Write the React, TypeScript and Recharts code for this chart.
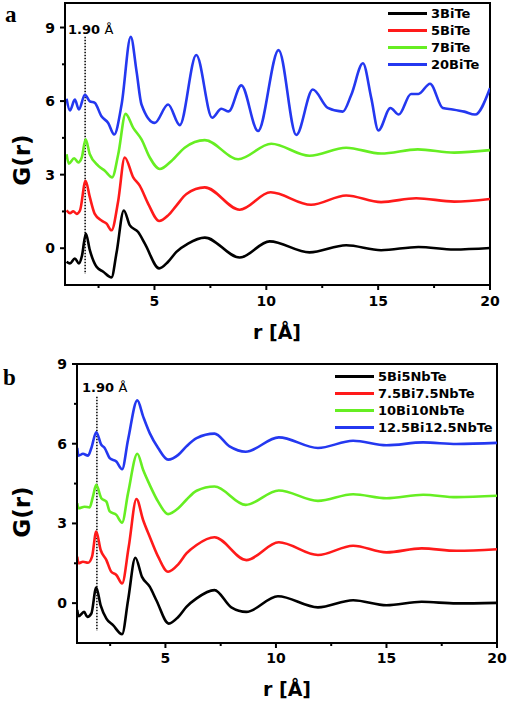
import React from 'react';
import { LineChart, Line, XAxis, YAxis, ReferenceLine, ReferenceArea } from 'recharts';

// r axis ticks (major every 5, minor every 2.5) and G(r) ticks
const R_TICKS = [2.5, 5, 7.5, 10, 12.5, 15, 17.5, 20];
const G_TICKS = [0, 1.5, 3, 4.5, 6, 7.5, 9];

// panel a: [r, G(r)]
const biTe3 = [[1.07, -0.55], [1.22, -0.62], [1.44, -0.42], [1.62, -0.62], [1.76, -0.3], [1.93, 0.6], [2.11, -0.08], [2.41, -0.76], [2.71, -0.96], [3.08, -1.19], [3.3, -0.21], [3.63, 1.54], [3.9, 0.93], [4.27, 0.66], [4.57, 0.19], [5.21, -0.82], [5.61, -0.55], [5.98, -0.15], [6.5, 0.19], [7.25, 0.43], [8.81, -0.38], [10.15, 0.28], [11.93, -0.17], [13.57, 0.12], [15.13, -0.08], [16.8, 0.05], [18.4, -0.05], [20, 0.01]];
const biTe5 = [[1.07, 1.54], [1.22, 1.43], [1.37, 1.51], [1.52, 1.4], [1.67, 1.54], [1.92, 2.75], [2.11, 2.08], [2.33, 1.4], [2.63, 1.13], [2.86, 1.0], [3.08, 0.73], [3.38, 1.94], [3.67, 3.7], [4.05, 2.89], [4.34, 2.55], [4.72, 1.81], [5.21, 1.11], [5.61, 1.34], [5.98, 1.74], [6.43, 2.21], [7.25, 2.48], [8.81, 1.57], [10.19, 2.28], [12.0, 1.77], [13.57, 2.15], [15.13, 1.88], [16.7, 2.04], [18.4, 1.9], [20, 2.01]];
const biTe7 = [[1.07, 3.83], [1.17, 3.45], [1.41, 3.67], [1.59, 3.5], [1.75, 3.7], [1.92, 4.44], [2.11, 3.83], [2.49, 3.36], [2.78, 3.16], [3.11, 2.89], [3.38, 3.83], [3.71, 5.48], [4.05, 4.91], [4.42, 4.44], [4.79, 3.7], [5.24, 3.23], [5.76, 3.56], [6.35, 4.1], [7.25, 4.41], [8.74, 3.63], [10.22, 4.26], [11.93, 3.77], [13.57, 4.1], [15.13, 3.86], [16.77, 4.03], [18.4, 3.9], [20, 4.0]];
const biTe20 = [[1.07, 6.1], [1.22, 5.62], [1.44, 6.06], [1.62, 5.66], [1.89, 6.26], [2.11, 5.99], [2.33, 5.93], [2.63, 5.38], [2.93, 5.11], [3.2, 4.64], [3.53, 5.86], [3.94, 8.62], [4.2, 7.2], [4.42, 5.86], [5.01, 5.11], [5.61, 5.86], [6.13, 5.02], [6.87, 7.88], [7.58, 5.32], [7.99, 5.69], [8.32, 5.58], [8.88, 6.64], [9.63, 4.78], [10.55, 8.08], [11.34, 4.62], [12.08, 6.47], [12.75, 5.72], [13.42, 5.57], [13.8, 6.26], [14.32, 7.54], [14.69, 6.13], [15.01, 4.8], [15.55, 5.72], [15.92, 5.45], [16.47, 6.29], [16.8, 6.29], [17.32, 6.71], [17.89, 5.72], [18.33, 5.66], [18.85, 5.57], [19.33, 5.45], [20, 6.53]];

// panel b
const nb5 = [[1.01, -0.26], [1.07, -0.49], [1.32, -0.33], [1.47, -0.52], [1.65, -0.39], [1.87, 0.59], [2.07, -0.08], [2.33, -0.58], [2.63, -0.83], [3.04, -1.17], [3.31, 0.11], [3.64, 1.71], [3.94, 0.99], [4.29, 0.62], [4.59, 0.11], [5.15, -0.77], [5.58, -0.52], [5.95, -0.14], [6.41, 0.18], [7.22, 0.49], [7.98, -0.16], [8.66, -0.33], [10.09, 0.26], [11.9, -0.16], [13.49, 0.11], [15.0, -0.08], [16.59, 0.05], [18.17, -0.01], [20, 0.01]];
const nb75 = [[1.01, 1.75], [1.07, 1.5], [1.27, 1.56], [1.5, 1.52], [1.68, 1.75], [1.87, 2.69], [2.07, 2.0], [2.33, 1.62], [2.55, 1.18], [2.78, 1.06], [3.04, 0.74], [3.34, 2.12], [3.69, 3.92], [3.99, 3.13], [4.29, 2.5], [4.67, 1.75], [5.12, 1.18], [5.58, 1.46], [5.95, 1.87], [6.41, 2.19], [7.22, 2.48], [8.66, 1.62], [10.13, 2.29], [11.9, 1.81], [13.49, 2.16], [15.0, 1.91], [16.59, 2.06], [18.17, 1.97], [20, 2.03]];
const nb10 = [[1.01, 3.76], [1.07, 3.57], [1.34, 3.63], [1.57, 3.6], [1.72, 4.01], [1.87, 4.45], [2.1, 3.95], [2.33, 3.82], [2.48, 3.45], [2.78, 3.32], [3.04, 3.03], [3.31, 4.14], [3.73, 5.62], [3.99, 5.02], [4.29, 4.45], [4.67, 3.82], [5.12, 3.35], [5.58, 3.57], [5.95, 3.89], [6.41, 4.23], [7.22, 4.39], [8.63, 3.7], [10.13, 4.24], [11.9, 3.85], [13.49, 4.1], [15.0, 3.95], [16.66, 4.08], [18.17, 3.99], [20, 4.04]];
const nb125 = [[1.01, 5.84], [1.07, 5.55], [1.27, 5.62], [1.5, 5.55], [1.65, 5.84], [1.87, 6.43], [2.1, 5.96], [2.25, 5.84], [2.48, 5.46], [2.78, 5.33], [3.04, 5.04], [3.31, 6.15], [3.73, 7.63], [3.99, 7.03], [4.29, 6.4], [4.67, 5.84], [5.12, 5.4], [5.58, 5.58], [5.95, 5.9], [6.41, 6.21], [7.22, 6.38], [7.9, 5.9], [8.63, 5.7], [10.13, 6.24], [11.9, 5.84], [13.49, 6.11], [15.0, 5.94], [16.66, 6.05], [18.17, 5.99], [20, 6.03]];

const COLORS = ['#000000', '#ff1a1a', '#66ee22', '#2438f0'];
const namesA = ['3BiTe', '5BiTe', '7BiTe', '20BiTe'];
const namesB = ['5Bi5NbTe', '7.5Bi7.5NbTe', '10Bi10NbTe', '12.5Bi12.5NbTe'];

const FONT = '"DejaVu Sans", sans-serif';

const toPoints = (pairs: number[][]) => pairs.map(([r, g]) => ({ r, g }));

function XTick(props: any) {
  const { x, y, payload, labelDy } = props;
  const major = payload.value % 5 === 0;
  return (
    <g>
      <line x1={x} x2={x} y1={y} y2={y + (major ? 5 : 3)} stroke="#000" strokeWidth={2} />
      {major && (
        <text x={x} y={y + labelDy} textAnchor="middle" fontFamily={FONT} fontWeight="bold" fontSize={14} fill="#000">
          {payload.value}
        </text>
      )}
    </g>
  );
}

function YTick(props: any) {
  const { x, y, payload } = props;
  const major = payload.value % 3 === 0;
  return (
    <g>
      <line x1={x} x2={x - (major ? 5 : 3)} y1={y} y2={y} stroke="#000" strokeWidth={2} />
      {major && (
        <text x={x - 10} y={y + 5} textAnchor="end" fontFamily={FONT} fontWeight="bold" fontSize={14} fill="#000">
          {payload.value}
        </text>
      )}
    </g>
  );
}

function Panel({ series, names, yMax, margin, height, labelDy, lineTop }: any) {
  return (
    <LineChart width={529} height={height} margin={margin}>
      <XAxis
        type="number"
        dataKey="r"
        domain={[1, 20]}
        ticks={R_TICKS}
        interval={0}
        allowDataOverflow
        height={30}
        tickSize={0}
        tickMargin={0}
        tickLine={false}
        axisLine={{ stroke: '#000', strokeWidth: 2 }}
        tick={<XTick labelDy={labelDy} />}
      />
      <YAxis
        type="number"
        domain={[-1.5, yMax]}
        ticks={G_TICKS}
        interval={0}
        allowDataOverflow
        width={40}
        tickSize={0}
        tickMargin={0}
        tickLine={false}
        axisLine={{ stroke: '#000', strokeWidth: 2 }}
        tick={<YTick />}
      />
      <ReferenceArea x1={1} x2={20} y1={-1.5} y2={yMax} fill="none" stroke="#000" strokeWidth={2} ifOverflow="visible" />
      <ReferenceLine
        segment={[{ x: 1.9, y: lineTop }, { x: 1.9, y: -1.05 }]}
        stroke="#000"
        strokeWidth={1.5}
        strokeDasharray="1.5 1.5"
      />
      {series.map((s: number[][], i: number) => (
        <Line
          key={names[i]}
          data={toPoints(s)}
          dataKey="g"
          name={names[i]}
          type="monotone"
          stroke={COLORS[i]}
          strokeWidth={2.6}
          dot={false}
          activeDot={false}
          isAnimationActive={false}
        />
      ))}
    </LineChart>
  );
}

function LegendBox({ names, left, top }: any) {
  return (
    <div style={{ position: 'absolute', left, top }}>
      {names.map((n: string, i: number) => (
        <div key={n} style={{ display: 'flex', alignItems: 'center', height: 17 }}>
          <div style={{ width: 39, height: 3, background: COLORS[i], marginRight: 4 }} />
          <span style={{ fontFamily: FONT, fontWeight: 'bold', fontSize: 13, lineHeight: '16px' }}>{n}</span>
        </div>
      ))}
    </div>
  );
}

const abs = (left: number, top: number, extra: any = {}) => ({
  position: 'absolute' as const,
  left,
  top,
  whiteSpace: 'nowrap' as const,
  ...extra,
});

export default function App() {
  const rLabel = { fontFamily: FONT, fontWeight: 'bold', fontSize: 19, transform: 'translate(-50%, -50%)' };
  const gLabel = {
    fontFamily: FONT,
    fontWeight: 'bold',
    fontSize: 23,
    transform: 'translate(-50%, -50%) rotate(-90deg)',
  };
  const markLabel = { fontFamily: FONT, fontWeight: 'bold', fontSize: 13, transform: 'translateY(-50%)' };
  const panelLabel = { fontFamily: '"Liberation Serif", serif', fontWeight: 'bold', fontSize: 23, lineHeight: '23px' };

  return (
    <div style={{ position: 'absolute', left: 0, top: 0, width: 529, height: 701, background: '#fff', overflow: 'hidden' }}>
      <div style={abs(0, 0)}>
        <Panel
          series={[biTe3, biTe5, biTe7, biTe20]}
          names={namesA}
          yMax={10}
          height={340}
          margin={{ top: 3, right: 39, bottom: 25, left: 25 }}
          labelDy={21}
          lineTop={8.62}
        />
      </div>
      <div style={abs(0, 350)}>
        <Panel
          series={[nb5, nb75, nb10, nb125]}
          names={namesB}
          yMax={9}
          height={351}
          margin={{ top: 14, right: 32, bottom: 28, left: 37 }}
          labelDy={20}
          lineTop={7.77}
        />
      </div>

      <LegendBox names={namesA} left={388} top={5} />
      <LegendBox names={namesB} left={335} top={368} />

      <div style={abs(277, 332, rLabel)}>r [Å]</div>
      <div style={abs(287, 689, rLabel)}>r [Å]</div>
      <div style={abs(22, 160, gLabel)}>G(r)</div>
      <div style={abs(22, 512, gLabel)}>G(r)</div>

      <div style={abs(68, 29, markLabel)}>1.90 <span style={{ fontWeight: 'normal' }}>Å</span></div>
      <div style={abs(82, 387, markLabel)}>1.90 <span style={{ fontWeight: 'normal' }}>Å</span></div>

      <div style={abs(5, 3, panelLabel)}>a</div>
      <div style={abs(3, 366, panelLabel)}>b</div>
    </div>
  );
}
